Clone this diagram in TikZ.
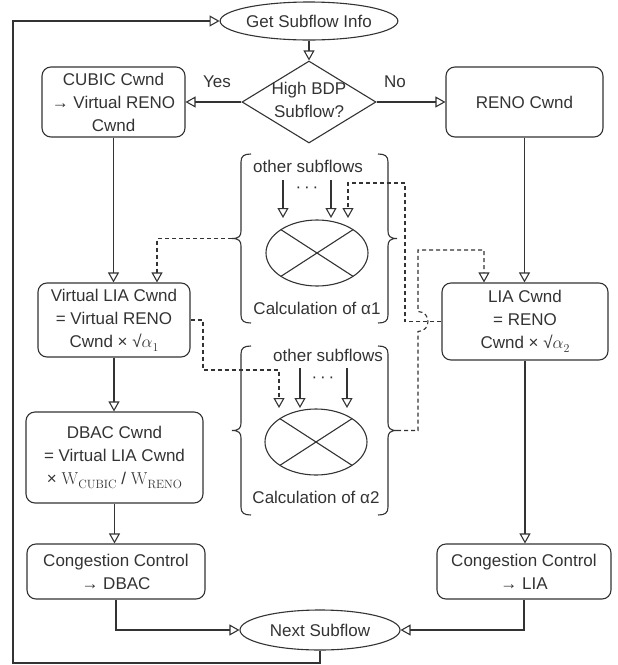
\documentclass[tikz,border=0pt]{standalone}
\usepackage[no-math]{fontspec}
\setmainfont{Liberation Sans}
\usetikzlibrary{shapes.geometric,arrows.meta,calc}
\definecolor{ln}{HTML}{333333}
\definecolor{tx}{HTML}{333333}
\newcommand{\subW}[1]{$\mathrm{W}$\raisebox{-4pt}{\fontsize{13}{13}\selectfont$\mathrm{#1}$}}
\newcommand{\sqa}[1]{√$\alpha$\raisebox{-4pt}{\fontsize{13}{13}\selectfont$\mathrm{#1}$}}
\begin{document}
\begin{tikzpicture}[x=1pt,y=-1pt,
  font=\fontsize{17}{23}\selectfont,
  every node/.style={text=tx},
  box/.style={draw=ln, line width=1.1pt, rounded corners=9pt, align=center, inner sep=0pt},
  term/.style={draw=ln, line width=1.1pt, ellipse, inner sep=0pt, align=center},
  flow/.style={draw=ln, line width=1.1pt, -{Triangle[open,length=10pt,width=11pt]}},
  dflow/.style={flow, dash pattern=on 4pt off 3pt},
  conn/.style={draw=ln, line width=1.1pt},
  sumell/.style={draw=ln, line width=1.1pt, ellipse, minimum width=102pt, minimum height=66pt, inner sep=0pt},
]
\useasboundingbox (0,0) rectangle (618,665);

% main nodes
\node[term, minimum width=138pt, minimum height=38pt] (gsi) at (309,21) {Get Subflow Info};
\node[draw=ln, line width=1.1pt, diamond, minimum width=134pt, minimum height=82pt, inner sep=0pt] (bdp) at (309,102) {};
\node[align=center] (bdptext) at (309,100) {High BDP\\Subflow?};
\node[box, minimum width=143pt, minimum height=70pt] (cubic) at (113.5,102) {CUBIC Cwnd\\→ Virtual RENO\\Cwnd};
\node[box, minimum width=157pt, minimum height=70pt] (reno) at (524.5,102) {RENO Cwnd};
\node[box, minimum width=152pt, minimum height=74pt] (vlia) at (114,320) {Virtual LIA Cwnd\\= Virtual RENO\\Cwnd × \sqa{1}};
\node[box, minimum width=166pt, minimum height=77pt] (lia) at (525,321.5) {LIA Cwnd\\= RENO\\Cwnd × \sqa{2}};
\node[box, minimum width=177pt, minimum height=91pt] (dbac) at (114.5,457.5) {DBAC Cwnd\\= Virtual LIA Cwnd\\× \subW{CUBIC} / \subW{RENO}};
\node[box, minimum width=178pt, minimum height=55pt] (ccd) at (116,571.5) {Congestion Control\\→ DBAC};
\node[box, minimum width=174pt, minimum height=55pt] (ccl) at (524,571.5) {Congestion Control\\→ LIA};
\node[term, minimum width=160pt, minimum height=40pt] (next) at (320,630) {Next Subflow};

\node (yes) at (217,82) {Yes};
\node (no) at (395,82) {No};

% alpha1 group
\node (o1) at (308,166) {other subflows};
\node (d1) at (307,190) {·\,·\,·};
\node[sumell] (a1) at (317,253) {};
\draw[conn] ($(a1.center)+(-36,-23.3)$) -- ($(a1.center)+(36,23.3)$);
\draw[conn] ($(a1.center)+(-36,23.3)$) -- ($(a1.center)+(36,-23.3)$);
\node (c1) at (317,308) {Calculation of α1};
\draw[conn] (251,154) .. controls (244,154) and (241,156) .. (241,162) -- (241,231) .. controls (241,236) and (239,238.5) .. (232,238.5) .. controls (239,238.5) and (241,241) .. (241,246) -- (241,315) .. controls (241,321) and (244,323) .. (251,323);
\draw[conn] (378,154) .. controls (385,154) and (388,156) .. (388,162) -- (388,231) .. controls (388,236) and (390,238.5) .. (397,238.5) .. controls (390,238.5) and (388,241) .. (388,246) -- (388,315) .. controls (388,321) and (385,323) .. (378,323);
\coordinate (a1L) at (232,238.5);
\coordinate (a1in1s) at (283,180); \coordinate (a1in1e) at (283,218);
\coordinate (a1in2s) at (331,180); \coordinate (a1in2e) at (331,218);
\coordinate (a1in3e) at (348,218);
\draw[flow] (a1in1s) -- (a1in1e);
\draw[flow] (a1in2s) -- (a1in2e);

% alpha2 group
\node (o2) at (328,355) {other subflows};
\node (d2) at (323,380) {·\,·\,·};
\node[sumell] (a2) at (316,442) {};
\draw[conn] ($(a2.center)+(-36,-23.3)$) -- ($(a2.center)+(36,23.3)$);
\draw[conn] ($(a2.center)+(-36,23.3)$) -- ($(a2.center)+(36,-23.3)$);
\node (c2) at (316,497) {Calculation of α2};
\draw[conn] (251,346) .. controls (244,346) and (241,348) .. (241,354) -- (241,423) .. controls (241,428) and (239,430.5) .. (232,430.5) .. controls (239,430.5) and (241,433) .. (241,438) -- (241,507) .. controls (241,513) and (244,515) .. (251,515);
\draw[conn] (378,346) .. controls (385,346) and (388,348) .. (388,354) -- (388,423) .. controls (388,428) and (390,430.5) .. (397,430.5) .. controls (390,430.5) and (388,433) .. (388,438) -- (388,507) .. controls (388,513) and (385,515) .. (378,515);
\coordinate (a2R) at (397,430.5);
\coordinate (a2in1s) at (300,368); \coordinate (a2in1e) at (300,408);
\coordinate (a2in2s) at (347,368); \coordinate (a2in2e) at (347,408);
\coordinate (a2in3e) at (279,408);
\draw[flow] (a2in1s) -- (a2in1e);
\draw[flow] (a2in2s) -- (a2in2e);

% main flow
\draw[flow] (gsi.south) -- (bdp.north);
\draw[flow] (bdp.west) -- (cubic.east);
\draw[flow] (bdp.east) -- (reno.west);
\draw[flow] (cubic.south) -- (cubic.south |- vlia.north);
\draw[flow] (vlia.south) -- (vlia.south |- dbac.north);
\draw[flow] (dbac.south) -- (dbac.south |- ccd.north);
\draw[flow] (reno.south) -- (reno.south |- lia.north);
\draw[flow] (lia.south) -- (lia.south |- ccl.north);
\draw[flow] (ccd.south) |- (next.west);
\draw[flow] (ccl.south) |- (next.east);
\coordinate (loopB) at (13,663);
\draw[flow] (next.south) -- (next.south |- loopB) -- (loopB) |- (gsi.west);

% dashed feedback
\draw[dflow] (vlia.east) -- (203,320) -- (203,370) -- (279,370) -- (a2in3e);
\draw[dflow] (a1L) -| ([xshift=43pt]vlia.north);
\draw[dflow] (lia.west) -- (405,321.5) -- (405,183) -- (348,183) -- (a1in3e);
\draw[dflow] (a2R) -- (418,430.5) -- (418,331.5) .. controls (431.3,331.5) and (431.3,311.5) .. (418,311.5) -- (418,250) -- (484,250) -- ([xshift=-41pt]lia.north);
\end{tikzpicture}
\end{document}
